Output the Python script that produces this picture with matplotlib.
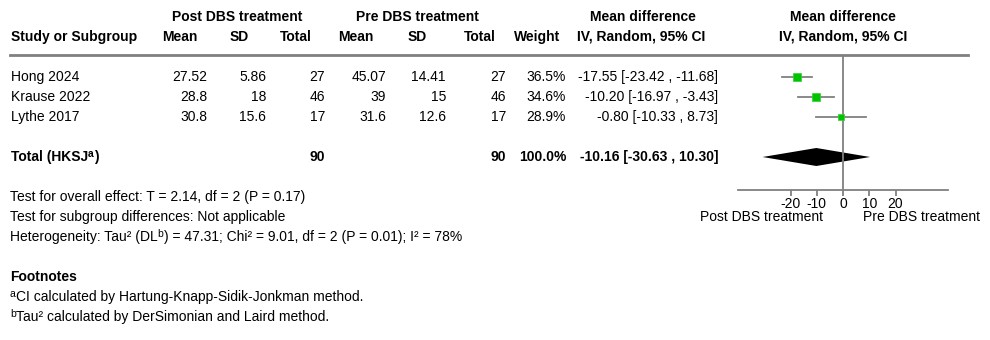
import matplotlib
matplotlib.use("Agg")
import matplotlib.pyplot as plt
from matplotlib.lines import Line2D

plt.rcParams['font.family'] = ['Liberation Sans', 'DejaVu Sans']

# data
studies = ["Hong 2024", "Krause 2022", "Lythe 2017"]
post_mean = [27.52, 28.8, 30.8]
post_sd = [5.86, 18, 15.6]
post_n = [27, 46, 17]
pre_mean = [45.07, 39, 31.6]
pre_sd = [14.41, 15, 12.6]
pre_n = [27, 46, 17]
weights = [36.5, 34.6, 28.9]
md = [-17.55, -10.20, -0.80]
md_lo = [-23.42, -16.97, -10.33]
md_hi = [-11.68, -3.43, 8.73]
total_md, total_lo, total_hi = -10.16, -30.63, 10.30
ticks = [-20, -10, 0, 10, 20]

W, H = 990, 340
fig = plt.figure(figsize=(W / 100, H / 100), dpi=100)
renderer = fig.canvas.get_renderer()
FS = 10
GRAY = '#808080'


def T(x, y, s, ha='left', bold=False, fs=FS):
    # y is the visual middle of the line in pixels; place on baseline
    return fig.text(x / W, 1 - (y + 3.6) / H, s, ha=ha, va='baseline', fontsize=fs,
                    fontweight='bold' if bold else 'normal')


def T_sup(x, y, parts, bold=False):
    # parts: list of (text, superscript?) drawn left to right
    for s, sup in parts:
        if sup:
            t = T(x, y - 4, s, bold=bold, fs=FS * 0.75)
        else:
            t = T(x, y, s, bold=bold)
        x = t.get_window_extent(renderer).x1


# headers
T(237, 17, "Post DBS treatment", 'center', True)
T(417, 17, "Pre DBS treatment", 'center', True)
T(643, 17, "Mean difference", 'center', True)
T(843, 17, "Mean difference", 'center', True)
T(11, 37, "Study or Subgroup", bold=True)
for x, s in [(180, "Mean"), (239, "SD"), (296, "Total"), (356, "Mean"),
             (417, "SD"), (480, "Total"), (537, "Weight"),
             (641, "IV, Random, 95% CI"), (843, "IV, Random, 95% CI")]:
    T(x, 37, s, 'center', True)

fig.add_artist(Line2D([10 / W, 968 / W], [1 - 55 / H, 1 - 55 / H],
                      color=GRAY, lw=2.0, transform=fig.transFigure))

# study rows
cols = [207, 266, 325, 386, 446, 506, 566, 718]
row_y = [77, 97, 117]
for i, name in enumerate(studies):
    y = row_y[i]
    T(11, y, name)
    vals = [f"{post_mean[i]:g}", f"{post_sd[i]:g}", f"{post_n[i]}",
            f"{pre_mean[i]:g}", f"{pre_sd[i]:g}", f"{pre_n[i]}",
            f"{weights[i]:.1f}%",
            f"{md[i]:.2f} [{md_lo[i]:.2f} , {md_hi[i]:.2f}]"]
    for x, s in zip(cols, vals):
        T(x, y, s, 'right')

# total row
T_sup(11, 157, [("Total (HKSJ", False), ("a", True), (")", False)], bold=True)
T(cols[2], 157, f"{sum(post_n)}", 'right', True)
T(cols[5], 157, f"{sum(pre_n)}", 'right', True)
T(cols[6], 157, f"{sum(weights):.1f}%", 'right', True)
T(cols[7], 157, f"{total_md:.2f} [{total_lo:.2f} , {total_hi:.2f}]", 'right', True)

# bottom text
T(10, 197, "Test for overall effect: T = 2.14, df = 2 (P = 0.17)")
T(10, 217, "Test for subgroup differences: Not applicable")
T_sup(10, 237, [("Heterogeneity: Tau² (DL", False), ("b", True),
                (") = 47.31; Chi² = 9.01, df = 2 (P = 0.01); I² = 78%", False)])
T(10, 277, "Footnotes", bold=True)
T_sup(10, 297, [("a", True), ("CI calculated by Hartung-Knapp-Sidik-Jonkman method.", False)])
T_sup(10, 317, [("b", True), ("Tau² calculated by DerSimonian and Laird method.", False)])

# forest plot
x0, x1, y0, y1 = 738, 948, 55, 190
ax = fig.add_axes([x0 / W, 1 - y1 / H, (x1 - x0) / W, (y1 - y0) / H])
ax.set_xlim(-40, 40)
ax.set_ylim(y1, y0)
ax.axvline(0, color=GRAY, lw=1.3)
for i in range(len(studies)):
    ax.plot([md_lo[i], md_hi[i]], [row_y[i], row_y[i]], color=GRAY, lw=1.3)
    ax.plot(md[i], row_y[i], 's', color='#00c400', mec='#30d030',
            ms=weights[i] * 0.17, mew=0.5)
ax.fill([total_lo, total_md, total_hi, total_md],
        [157, 148, 157, 166], color='black', lw=0)
for s in ['top', 'left', 'right']:
    ax.spines[s].set_visible(False)
ax.spines['bottom'].set_color(GRAY)
ax.spines['bottom'].set_linewidth(1.3)
ax.set_yticks([])
ax.set_xticks(ticks)
ax.set_xticklabels([str(t) for t in ticks])
ax.tick_params(axis='x', direction='out', length=4, width=1.3, color=GRAY,
               pad=1, labelsize=FS)

T(823, 217, "Post DBS treatment", 'right')
T(863, 217, "Pre DBS treatment")

fig.savefig("out.png", dpi=100)
